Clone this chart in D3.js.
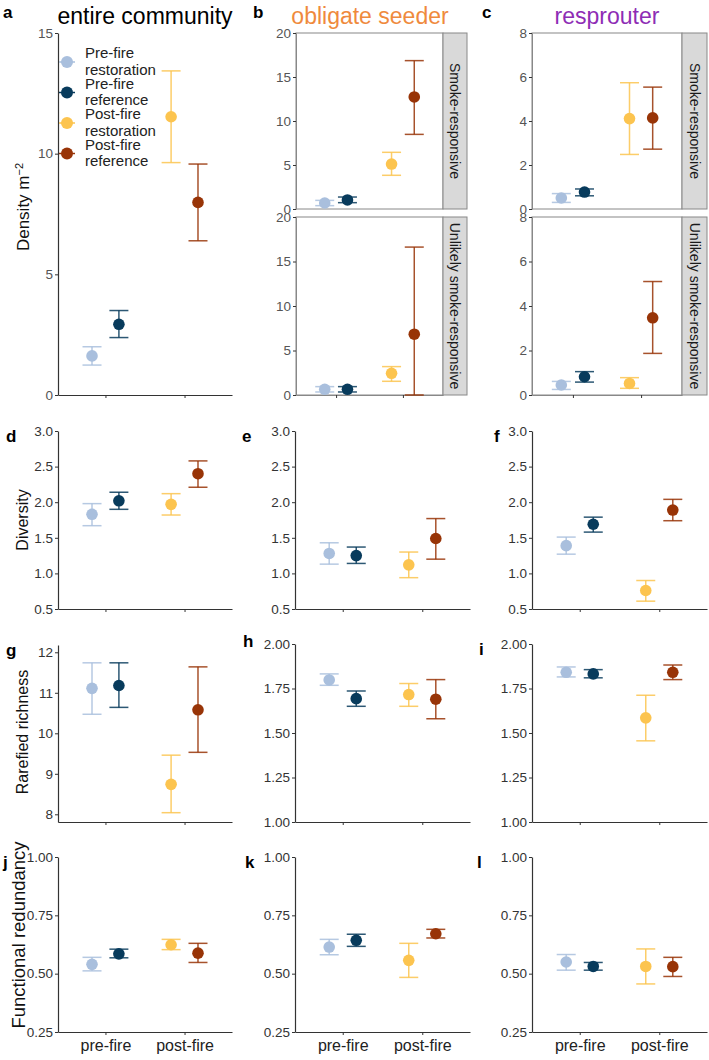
<!DOCTYPE html>
<html>
<head>
<meta charset="utf-8">
<script src="https://cdn.jsdelivr.net/npm/d3@7"></script>
<style>
  body { margin: 0; background: #fff; }
  svg { font-family: "Liberation Sans", Arial, sans-serif; }
</style>
</head>
<body>
<svg width="709" height="1060"></svg>
<script>
// groups, in the legend order
const groups = ["Pre-fire restoration", "Pre-fire reference", "Post-fire restoration", "Post-fire reference"];
const legendLines = [["Pre-fire", "restoration"], ["Pre-fire", "reference"], ["Post-fire", "restoration"], ["Post-fire", "reference"]];
const groupColors = ["#a9bfdd", "#083b5c", "#fcc44f", "#983407"];
const periods = ["pre-fire", "post-fire"];
const groupPeriod = [1, 1, 2, 2];
const groupDodge = [-1, 1, -1, 1];

// values per group: [mean, lower, upper]
const densityAll = [[1.62, 1.24, 2.0], [2.93, 2.38, 3.5], [11.53, 9.63, 13.43], [7.98, 6.39, 9.57]];
const densitySeederSmoke = [[0.68, 0.38, 0.98], [1.03, 0.72, 1.36], [5.11, 3.83, 6.44], [12.73, 8.48, 16.86]];
const densitySeederUnlikely = [[0.64, 0.34, 0.94], [0.64, 0.34, 0.94], [2.44, 1.54, 3.19], [6.83, 0, 16.62]];
const densityResprSmoke = [[0.5, 0.3, 0.7], [0.77, 0.6, 0.91], [4.11, 2.48, 5.74], [4.14, 2.72, 5.54]];
const densityResprUnlikely = [[0.45, 0.25, 0.61], [0.82, 0.58, 1.05], [0.52, 0.3, 0.78], [3.47, 1.87, 5.1]];
const diversityAll = [[1.83, 1.67, 1.98], [2.02, 1.9, 2.14], [1.97, 1.82, 2.12], [2.4, 2.21, 2.58]];
const diversitySeeder = [[1.28, 1.13, 1.43], [1.25, 1.14, 1.37], [1.12, 0.94, 1.3], [1.49, 1.2, 1.77]];
const diversityResprouter = [[1.39, 1.27, 1.51], [1.69, 1.58, 1.79], [0.76, 0.61, 0.9], [1.89, 1.74, 2.04]];
const richnessAll = [[11.11, 10.47, 11.74], [11.18, 10.64, 11.74], [8.74, 8.04, 9.46], [10.58, 9.53, 11.64]];
const richnessSeeder = [[1.798, 1.768, 1.832], [1.693, 1.65, 1.736], [1.716, 1.65, 1.778], [1.69, 1.58, 1.8]];
const richnessResprouter = [[1.841, 1.815, 1.871], [1.832, 1.81, 1.856], [1.585, 1.456, 1.712], [1.841, 1.8, 1.882]];
const redundancyAll = [[0.54, 0.512, 0.57], [0.585, 0.568, 0.605], [0.624, 0.603, 0.647], [0.588, 0.548, 0.63]];
const redundancySeeder = [[0.614, 0.581, 0.647], [0.643, 0.617, 0.669], [0.557, 0.484, 0.63], [0.671, 0.653, 0.69]];
const redundancyResprouter = [[0.55, 0.515, 0.582], [0.531, 0.515, 0.548], [0.531, 0.456, 0.606], [0.53, 0.488, 0.57]];

// tick labels
const densityTicksAll = [0, 5, 10, 15];
const densityTicksSeeder = [0, 5, 10, 15, 20];
const densityTicksResprouter = [0, 2, 4, 6, 8];
const diversityTicks = [0.5, 1.0, 1.5, 2.0, 2.5, 3.0];
const richnessTicksAll = [8, 9, 10, 11, 12];
const richnessTicksGroup = [1.0, 1.25, 1.5, 1.75, 2.0];
const redundancyTicks = [0.25, 0.5, 0.75, 1.0];

const svg = d3.select("svg");
const axisColor = "#333";

function drawPanel(p) {
  const g = svg.append("g");
  const x = d3.scaleLinear().domain([0.4, 2.6]).range([p.x0, p.x1]);
  const y = d3.scaleLinear().domain(p.domain).range([p.y1, p.y0]);

  if (p.border) {
    g.append("rect")
      .attr("x", p.x0).attr("y", p.y0)
      .attr("width", p.x1 - p.x0).attr("height", p.y1 - p.y0)
      .attr("fill", "none").attr("stroke", "#888").attr("stroke-width", 1);
  }

  const yAxis = g.append("g")
    .attr("transform", `translate(${p.x0},0)`)
    .call(d3.axisLeft(y).tickValues(p.ticks).tickFormat(p.fmt).tickSize(3).tickPadding(2).tickSizeOuter(0));
  yAxis.selectAll("text").attr("fill", p.labelColor || "#333").style("font-size", (p.fontSize || 13.5) + "px");
  yAxis.selectAll("line").attr("stroke", axisColor);
  yAxis.select(".domain").attr("stroke", p.border ? "#888" : axisColor).attr("stroke-width", p.border ? 1 : 1.2);

  if (p.xTicks !== false) {
    const xAxis = g.append("g")
      .attr("transform", `translate(0,${p.y1})`)
      .call(d3.axisBottom(x).tickValues([1, 2]).tickFormat((d) => p.xLabels ? periods[d - 1] : "")
        .tickSize(3).tickPadding(5).tickSizeOuter(0));
    xAxis.selectAll("text").attr("fill", "#222").style("font-size", "16px");
    xAxis.selectAll("line").attr("stroke", axisColor);
    xAxis.select(".domain").attr("stroke", p.border ? "#888" : axisColor).attr("stroke-width", p.border ? 1 : 1.2);
  }

  const cx = (i) => x(groupPeriod[i] + groupDodge[i] * 0.17);
  const cap = 9.5;
  const bars = g.append("g").selectAll("g").data(p.data).join("g")
    .attr("stroke", (d, i) => groupColors[i])
    .attr("stroke-opacity", 0.85)
    .attr("stroke-width", 1.5);
  bars.append("line")
    .attr("x1", (d, i) => cx(i)).attr("x2", (d, i) => cx(i))
    .attr("y1", (d) => y(d[1])).attr("y2", (d) => y(d[2]));
  bars.append("line")
    .attr("x1", (d, i) => cx(i) - cap).attr("x2", (d, i) => cx(i) + cap)
    .attr("y1", (d) => y(d[1])).attr("y2", (d) => y(d[1]));
  bars.append("line")
    .attr("x1", (d, i) => cx(i) - cap).attr("x2", (d, i) => cx(i) + cap)
    .attr("y1", (d) => y(d[2])).attr("y2", (d) => y(d[2]));

  g.append("g").selectAll("circle").data(p.data).join("circle")
    .attr("cx", (d, i) => cx(i))
    .attr("cy", (d) => y(d[0]))
    .attr("r", 5.8)
    .attr("fill", (d, i) => groupColors[i]);

  if (p.strip) {
    const sx = p.x1, sw = p.stripWidth;
    g.append("rect")
      .attr("x", sx).attr("y", p.y0).attr("width", sw).attr("height", p.y1 - p.y0)
      .attr("fill", "#d9d9d9").attr("stroke", "#888");
    g.append("text")
      .attr("transform", `translate(${sx + sw / 2},${(p.y0 + p.y1) / 2}) rotate(90)`)
      .attr("text-anchor", "middle").attr("dy", "0.35em")
      .attr("fill", "#1a1a1a").style("font-size", "14px")
      .text(p.strip);
  }
  return { x, y };
}

function label(txt, x, y) {
  svg.append("text").attr("x", x).attr("y", y)
    .style("font-size", "17px").style("font-weight", "bold").text(txt);
}
function yTitle(txt, x, y, size) {
  return svg.append("text")
    .attr("transform", `translate(${x},${y}) rotate(-90)`)
    .attr("text-anchor", "middle").attr("dy", "0.35em")
    .style("font-size", size + "px").attr("fill", "#111").text(txt);
}
function colTitle(txt, x, color) {
  svg.append("text").attr("x", x).attr("y", 24).attr("text-anchor", "middle")
    .style("font-size", "23px").attr("fill", color).text(txt);
}

const fmtInt = d3.format("d");
const fmt1 = d3.format(".1f");
const fmt2 = d3.format(".2f");

// row 1: density
colTitle("entire community", 145, "#000");
colTitle("obligate seeder", 370, "#ef8a3d");
colTitle("resprouter", 607, "#8e2db5");
label("a", 3, 18); label("b", 253, 18); label("c", 482, 18);

drawPanel({ x0: 58, x1: 232, y0: 33, y1: 395, domain: [0, 15], ticks: densityTicksAll, fmt: fmtInt, data: densityAll, labelColor: "#555" });
drawPanel({ x0: 296, x1: 443, y0: 33, y1: 209, domain: [0, 20], ticks: densityTicksSeeder, fmt: fmtInt, data: densitySeederSmoke,
  border: true, xTicks: false, strip: "Smoke-responsive", stripWidth: 24, labelColor: "#555" });
drawPanel({ x0: 296, x1: 443, y0: 217, y1: 395, domain: [0, 20], ticks: densityTicksSeeder, fmt: fmtInt, data: densitySeederUnlikely,
  border: true, strip: "Unlikely smoke-responsive", stripWidth: 24, labelColor: "#555" });
drawPanel({ x0: 532, x1: 682, y0: 33, y1: 209, domain: [0, 8], ticks: densityTicksResprouter, fmt: fmtInt, data: densityResprSmoke,
  border: true, xTicks: false, strip: "Smoke-responsive", stripWidth: 25, labelColor: "#555" });
drawPanel({ x0: 532, x1: 682, y0: 217, y1: 395, domain: [0, 8], ticks: densityTicksResprouter, fmt: fmtInt, data: densityResprUnlikely,
  border: true, strip: "Unlikely smoke-responsive", stripWidth: 25, labelColor: "#555" });

const dens = yTitle("", 23, 207, 17);
dens.append("tspan").text("Density m");
dens.append("tspan").attr("dy", "-0.5em").style("font-size", "11px").text("\u22122");

// legend inside panel a
const leg = svg.append("g").selectAll("g").data(groups).join("g")
  .attr("transform", (d, i) => `translate(67,${62 + i * 30.5})`);
leg.append("line").attr("x1", -8).attr("x2", 8).attr("stroke", (d, i) => groupColors[i]).attr("stroke-width", 1.5);
leg.append("circle").attr("r", 6).attr("fill", (d, i) => groupColors[i]);
leg.each(function (d, i) {
  const t = d3.select(this).append("text").attr("x", 18).attr("y", -4).style("font-size", "15px").attr("fill", "#222");
  t.append("tspan").attr("x", 18).text(legendLines[i][0]);
  t.append("tspan").attr("x", 18).attr("dy", 16.5).text(legendLines[i][1]);
});

// row 2: diversity
label("d", 6, 442); label("e", 242, 442); label("f", 494, 442);
drawPanel({ x0: 58, x1: 232, y0: 431, y1: 609, domain: [0.5, 3.0], ticks: diversityTicks, fmt: fmt1, data: diversityAll });
drawPanel({ x0: 295, x1: 470, y0: 431, y1: 609, domain: [0.5, 3.0], ticks: diversityTicks, fmt: fmt1, data: diversitySeeder });
drawPanel({ x0: 532, x1: 707, y0: 431, y1: 609, domain: [0.5, 3.0], ticks: diversityTicks, fmt: fmt1, data: diversityResprouter });
yTitle("Diversity", 22, 520, 16);

// row 3: rarefied richness
label("g", 6, 656); label("h", 243, 647); label("i", 479, 655);
drawPanel({ x0: 58, x1: 232, y0: 645, y1: 822, domain: [7.81, 12.18], ticks: richnessTicksAll, fmt: fmtInt, data: richnessAll });
drawPanel({ x0: 295, x1: 470, y0: 644, y1: 822, domain: [1.0, 2.0], ticks: richnessTicksGroup, fmt: fmt2, data: richnessSeeder });
drawPanel({ x0: 532, x1: 707, y0: 644, y1: 822, domain: [1.0, 2.0], ticks: richnessTicksGroup, fmt: fmt2, data: richnessResprouter });
yTitle("Rarefied richness", 22, 732, 16);

// row 4: functional redundancy
label("j", 3, 868); label("k", 245, 868); label("l", 477, 868);
drawPanel({ x0: 58, x1: 232, y0: 857, y1: 1032, domain: [0.25, 1.0], ticks: redundancyTicks, fmt: fmt2, data: redundancyAll, xLabels: true });
drawPanel({ x0: 295, x1: 470, y0: 857, y1: 1032, domain: [0.25, 1.0], ticks: redundancyTicks, fmt: fmt2, data: redundancySeeder, xLabels: true });
drawPanel({ x0: 532, x1: 707, y0: 857, y1: 1032, domain: [0.25, 1.0], ticks: redundancyTicks, fmt: fmt2, data: redundancyResprouter, xLabels: true });
yTitle("Functional redundancy", 19, 935, 18.5);
</script>
</body>
</html>
